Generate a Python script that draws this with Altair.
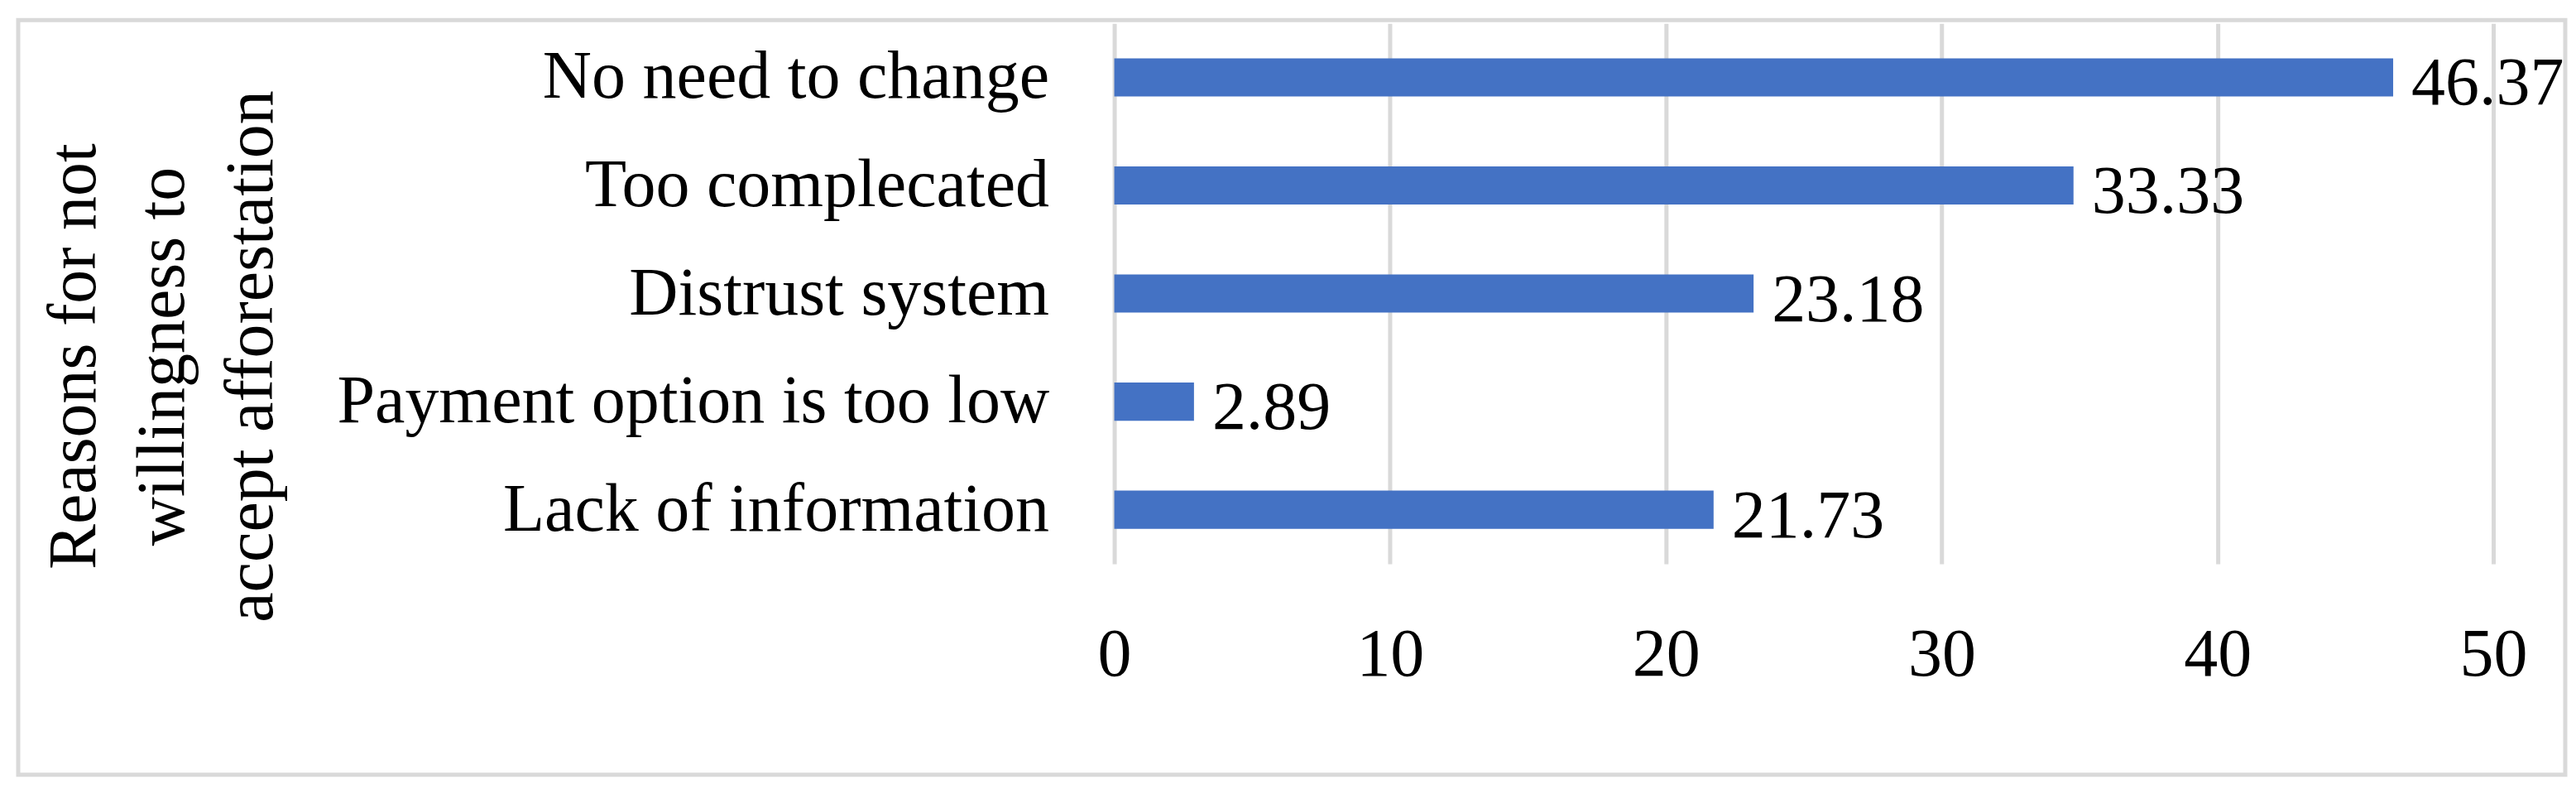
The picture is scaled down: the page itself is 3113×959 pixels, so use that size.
import altair as alt
import pandas as pd

categories = [
    "No need to change",
    "Too complecated",
    "Distrust system",
    "Payment option is too low",
    "Lack of information",
]
bar_lengths = [46.37, 34.78, 23.18, 2.89, 21.73]
label_texts = ["46.37", "33.33", "23.18", "2.89", "21.73"]
x_ticks = [0, 10, 20, 30, 40, 50]
y_title = ["Reasons for not", "willingness to", "accept afforestation"]

df = pd.DataFrame({"reason": categories, "value": bar_lengths, "label": label_texts})

W, H = 1667, 653
FONT = "Liberation Serif"
FS = 82
GRID = "#d9d9d9"

x_enc = alt.X(
    "value:Q",
    scale=alt.Scale(domain=[0, 50], nice=False),
    axis=alt.Axis(
        values=x_ticks, title=None, domain=False, ticks=False, grid=True,
        gridColor=GRID, gridWidth=5, labelFont=FONT, labelFontSize=FS,
        labelColor="black", labelPadding=70, labelFlush=False,
    ),
)
y_enc = alt.Y(
    "reason:N",
    sort=categories,
    scale=alt.Scale(paddingInner=0.647, paddingOuter=0.3235),
    axis=alt.Axis(
        title=y_title, domain=False, ticks=False, labelFont=FONT,
        labelFontSize=FS, labelColor="black", labelPadding=79, labelLimit=0,
        titleFont=FONT, titleFontSize=FS, titleFontWeight="normal",
        titleColor="black", titleLineHeight=107, titleAngle=270,
        titleX=-1257, titleY=402, titleAlign="center", titleBaseline="middle",
    ),
)

border = alt.Chart(pd.DataFrame({"a": [0]})).mark_rect(
    fillOpacity=0, stroke=GRID, strokeWidth=5
).encode(
    x=alt.value(-1325), x2=alt.value(1754), y=alt.value(-4), y2=alt.value(908)
)

bars = alt.Chart(df).mark_bar(color="#4472C4").encode(x=x_enc, y=y_enc)

labels = alt.Chart(df).mark_text(
    align="left", baseline="middle", dx=22, dy=8, font=FONT, fontSize=FS,
    color="black",
).encode(x="value:Q", y=alt.Y("reason:N", sort=categories), text="label:N")

chart = alt.layer(border, bars, labels).properties(
    width=W, height=H,
    autosize="none",
    padding={"left": 1339, "top": 20, "right": 92, "bottom": 260},
    background="white",
).configure_view(strokeWidth=0)

chart.save("out.html", embed_options={"renderer": "svg", "actions": False})
